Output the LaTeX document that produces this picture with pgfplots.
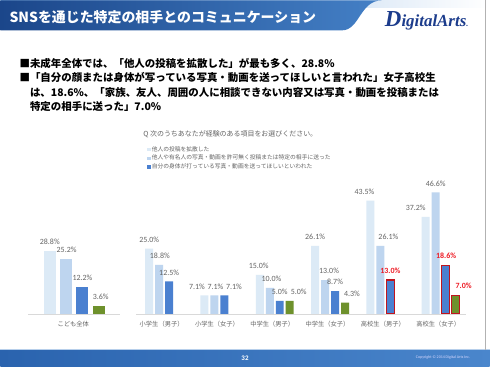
\documentclass[border=0pt]{standalone}
\usepackage{fontspec}
\setmainfont{Carlito}
\newfontfamily\jp{Noto Sans CJK JP}
\newfontfamily\logofont{Liberation Serif}
\usepackage{pgfplots}
\pgfplotsset{compat=1.18}
\definecolor{s1}{HTML}{DCEAF6}
\definecolor{s2}{HTML}{BED5EF}
\definecolor{s3}{HTML}{4A80D0}
\definecolor{s4}{HTML}{6E912C}
\definecolor{hlred}{HTML}{C0141E}
\definecolor{labred}{HTML}{EE1C25}
\definecolor{labgray}{HTML}{646464}
\definecolor{hdrL}{HTML}{1B468A}
\definecolor{hdrR}{HTML}{4480C6}
\definecolor{hdrlight}{HTML}{7FAEE0}
\definecolor{logoblue}{HTML}{1C3C8C}
\definecolor{ftL}{HTML}{2A63AE}
\definecolor{ftR}{HTML}{4A86CC}
\pgfplotsset{
  valnodes/.style={
    /pgf/number format/assume math mode=true,
    visualization depends on={value \thisrow{dx} \as \dx},
    nodes near coords={\pgfmathprintnumber[fixed,fixed zerofill,precision=1,assume math mode=true]{\pgfplotspointmeta}\%},
    every node near coord/.append style={font=\fontsize{8}{8}\selectfont, text=labgray, anchor=south, inner sep=0pt, yshift=6bp, xshift=\dx bp},
  },
  redlab/.style={every node near coord/.append style={text=labred, font=\bfseries\fontsize{8}{8}\selectfont}},
}
\begin{document}
\begin{tikzpicture}[x=1bp,y=1bp]
\fill[white] (0,0) rectangle (490,367);
% header
\shade[left color=hdrlight, right color=white] (0,360) rectangle (490,367);
\shade[left color=hdrL, right color=hdrR] (0,337) -- (342,337) .. controls (360,337) and (360,367) .. (382,367) -- (0,367) -- cycle;
\node[anchor=west, text=white, font=\jp\bfseries\fontsize{14}{14}\selectfont, inner sep=0pt] at (9,350) {SNSを通じた特定の相手とのコミュニケーション};
\node[anchor=west, text=logoblue, font=\logofont\bfseries\itshape\fontsize{17}{17}\selectfont, inner sep=0pt] at (385,347) {{\fontsize{23}{23}\selectfont D}igitalArts{\fontsize{8}{8}\selectfont.}};
% footer
\shade[left color=ftL, right color=ftR] (0,0) rectangle (490,17);
\draw[white!60!ftR, line width=0.8bp] (0,17) -- (490,17);
\node[text=white, font=\bfseries\fontsize{7}{7}\selectfont] at (245,9) {32};
\node[anchor=east, text=white!85!blue, font=\fontsize{4}{4}\selectfont] at (474,9) {Copyright \textcopyright{} 2014 Digital Arts Inc.};
\draw[gray!60, line width=0.8bp] (485.5,17) -- (485.5,367);
% bullets
\begin{scope}[every node/.style={anchor=west, inner sep=0pt, text=black, font=\jp\bfseries\fontsize{10.5}{10.5}\selectfont}]
\node at (19,304) {■未成年全体では、「他人の投稿を拡散した」が最も多く、28.8\%};
\node at (19,290) {■「自分の顔または身体が写っている写真・動画を送ってほしいと言われた」女子高校生};
\node at (29.5,275) {は、18.6\%、「家族、友人、周囲の人に相談できない内容又は写真・動画を投稿または};
\node at (29.5,261) {特定の相手に送った」7.0\%};
\end{scope}
\node[anchor=west, inner sep=0pt, text=labgray, font=\jp\fontsize{7}{7}\selectfont] at (143,233) {Q 次のうちあなたが経験のある項目をお選びください。};
% chart 1
\begin{axis}[
  at={(28bp,53bp)}, anchor=south west, scale only axis,
  width=92bp, height=121bp, xmin=-1, xmax=1, ymin=0, ymax=55,
  ybar, bar width=12bp, clip=false,
  axis y line=none, axis x line*=bottom,
  x axis line style={draw=gray!30, line width=0.6bp, -},
  xtick={0}, xticklabels={こども全体}, major tick length=0pt,
  xticklabel style={font=\jp\fontsize{6.3}{6.3}\selectfont, text=labgray, anchor=center, yshift=-10bp, xshift=-1bp},
  valnodes,
]
\addplot[fill=s1, draw=none, bar shift=-24.5bp] table[row sep=\\] {x y dx\\ 0 28.8 0\\};
\addplot[fill=s2, draw=none, bar shift=-8.2bp] table[row sep=\\] {x y dx\\ 0 25.2 0.5\\};
\addplot[fill=s3, draw=none, bar shift=8.2bp] table[row sep=\\] {x y dx\\ 0 12.2 0\\};
\addplot[fill=s4, draw=none, bar shift=24.5bp] table[row sep=\\] {x y dx\\ 0 3.6 2\\};
\end{axis}
% chart 2
\begin{axis}[
  at={(136.3bp,53bp)}, anchor=south west, scale only axis,
  width=329.63bp, height=143.55bp, xmin=-0.5, xmax=5.45, ymin=0, ymax=55,
  ybar, bar width=8bp, clip=false,
  axis y line=none, axis x line*=bottom,
  x axis line style={draw=gray!30, line width=0.6bp, -},
  xtick={0,...,5}, xticklabels={小学生（男子）,小学生（女子）,中学生（男子）,中学生（女子）,高校生（男子）,高校生（女子）}, major tick length=0pt,
  xticklabel style={font=\jp\fontsize{6.3}{6.3}\selectfont, text=labgray, anchor=center, yshift=-10bp, xshift=-2.5bp},
  valnodes,
  legend cell align=left,
  legend style={at={(0.0234,1.191)}, anchor=north west, draw=none, fill=none,
    font=\jp\fontsize{5.8}{5.8}\selectfont, text=labgray, nodes={inner sep=0.8bp}, row sep=1bp},
  legend image code/.code={\fill[#1] (0bp,-1.8bp) rectangle (3.6bp,1.8bp);},
]
\addplot[fill=s1, draw=none, bar shift=-15bp] table[row sep=\\] {x y dx\\ 0 25.0 0\\ 1 7.1 -7.5\\ 2 15.0 -1\\ 3 26.1 0\\ 4 43.5 -6\\ 5 37.2 -10\\};
\addlegendentry{他人の投稿を拡散した}
\addplot[fill=s2, draw=none, bar shift=-5bp] table[row sep=\\] {x y dx\\ 0 18.8 0.7\\ 1 7.1 1\\ 2 10.0 1.7\\ 3 13.0 4\\ 4 26.1 8\\ 5 46.6 0\\};
\addlegendentry{他人や有名人の写真・動画を許可無く投稿または特定の相手に送った}
\addplot[fill=s3, draw=none, bar shift=5bp] table[row sep=\\] {x y dx\\ 0 12.5 0\\ 1 7.1 9.5\\ 2 5.0 0\\ 3 8.7 0\\};
\addlegendentry{自分の身体が打っている写真・動画を送ってほしいといわれた}
\addplot[fill=s3, draw=hlred, line width=1.2bp, bar shift=5bp, redlab, forget plot] table[row sep=\\] {x y dx\\ 4 13.0 0\\ 5 18.6 0.5\\};
\addplot[fill=s4, draw=none, bar shift=15bp, forget plot] table[row sep=\\] {x y dx\\ 2 5.0 9\\ 3 4.3 7\\};
\addplot[fill=s4, draw=hlred, line width=1.2bp, bar shift=15bp, redlab, forget plot] table[row sep=\\] {x y dx\\ 5 7.0 8\\};
\end{axis}
\end{tikzpicture}
\end{document}
